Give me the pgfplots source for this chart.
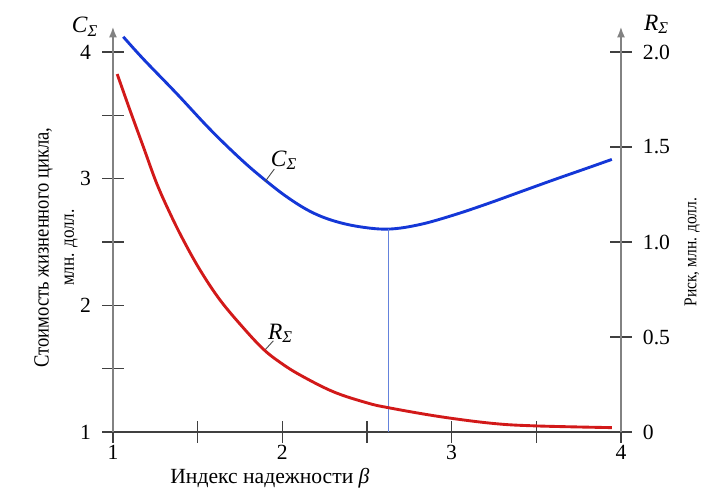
\documentclass[border=0pt]{standalone}
\usepackage{fontspec}
\setmainfont{Liberation Serif}
\newfontfamily\condfont[FakeStretch=0.86]{Liberation Serif}
\usepackage{pgfplots}
\pgfplotsset{compat=1.18}
\usetikzlibrary{arrows.meta}
\definecolor{cblue}{RGB}{20,55,215}
\definecolor{cred}{RGB}{210,25,25}
\definecolor{vblue}{RGB}{100,130,220}
\definecolor{axgray}{RGB}{130,130,130}
\begin{document}
\fontsize{12}{14}\selectfont
\begin{tikzpicture}
\pgfplotsset{
  common/.style={
    width=282pt, height=225pt, scale only axis,
    xmin=1, xmax=4,
    tick align=center, major tick length=12pt,
    tick style={black!75, line width=0.7pt},
    /pgf/number format/assume math mode=true,
    tick label style={font=\fontsize{12}{14}\selectfont},
    clip=false,
  }
}
\begin{axis}[common,
  ymin=1, ymax=4.2,
  axis x line*=bottom, axis y line=left,
  x axis line style={black!75, line width=0.8pt},
  y axis line style={axgray, line width=1pt, -{Latex[length=6pt,width=4.5pt]}},
  xtick={1,1.5,2,2.5,3,3.5,4}, xticklabels={1,,2,,3,,4},
  ytick={1,1.5,2,2.5,3,3.5,4}, yticklabels={1,,2,,3,,4},
  xticklabel style={yshift=3pt},
  yticklabel style={xshift=-2pt},
  xlabel={Индекс надежности \textit{β}},
  xlabel style={at={(axis description cs:0.309,-0.114)}, anchor=center, font=\fontsize{12}{14}\selectfont},
  ylabel={{\condfont\fontsize{12}{14}\selectfont Стоимость жизненного цикла,}\\{\condfont\fontsize{11}{13}\selectfont млн. долл.}},
  ylabel style={at={(axis description cs:-0.112,0.455)}, anchor=center, align=center},
]
\addplot[cblue, line width=1.6pt, smooth, tension=0.6] coordinates {
(1.061,4.120) (1.179,3.945) (1.376,3.672) (1.573,3.390) (1.750,3.160)
(1.888,3.000) (2.026,2.857) (2.164,2.742) (2.301,2.668) (2.459,2.620)
(2.630,2.602) (2.813,2.638) (3.010,2.712) (3.207,2.800) (3.404,2.895)
(3.601,2.990) (3.798,3.082) (3.946,3.152)};
\addplot[vblue, line width=0.6pt] coordinates {(2.626,1) (2.626,2.602)};
\draw[black!70, line width=0.5pt] (axis cs:1.953,3.076) -- (axis cs:1.898,2.976);
\node[font=\fontsize{13}{14}\selectfont] at (axis cs:2.01,3.147) {\textit{C}\textsubscript{\textit{Σ}}};
\draw[black!70, line width=0.5pt] (axis cs:1.947,1.72) -- (axis cs:1.894,1.642);
\node[font=\fontsize{13}{14}\selectfont] at (axis cs:1.99,1.781) {\textit{R}\textsubscript{\textit{Σ}}};
\node[font=\fontsize{13}{14}\selectfont] at (axis description cs:-0.055,1.0) {\textit{C}\textsubscript{\textit{Σ}}};
\node[font=\fontsize{13}{14}\selectfont] at (axis description cs:1.07,1.005) {\textit{R}\textsubscript{\textit{Σ}}};
\end{axis}
\begin{axis}[common,
  ymin=0, ymax=2.1333,
  axis x line=none, axis y line=right,
  y axis line style={axgray, line width=1pt, -{Latex[length=6pt,width=4.5pt]}},
  ytick={0,0.5,1,1.5,2}, yticklabels={0,0.5,1.0,1.5,2.0},
  yticklabel style={anchor=west, xshift=2pt},
  ylabel={\condfont\fontsize{10}{12}\selectfont Риск, млн. долл.},
  ylabel style={at={(axis description cs:1.14,0.444)}, anchor=center},
]
\addplot[cred, line width=1.6pt, smooth, tension=0.6] coordinates {
(1.025,1.884) (1.100,1.695) (1.179,1.502) (1.258,1.309) (1.337,1.151)
(1.415,1.011) (1.514,0.853) (1.632,0.695) (1.770,0.548) (1.888,0.436)
(1.986,0.367) (2.105,0.300) (2.301,0.212) (2.498,0.154) (2.626,0.128)
(2.930,0.081) (3.246,0.045) (3.500,0.032) (3.946,0.023)};
\end{axis}
\pgfresetboundingbox
\path (-62.7pt,-32.7pt) rectangle (330.3pt,239.8pt);
\end{tikzpicture}
\end{document}
